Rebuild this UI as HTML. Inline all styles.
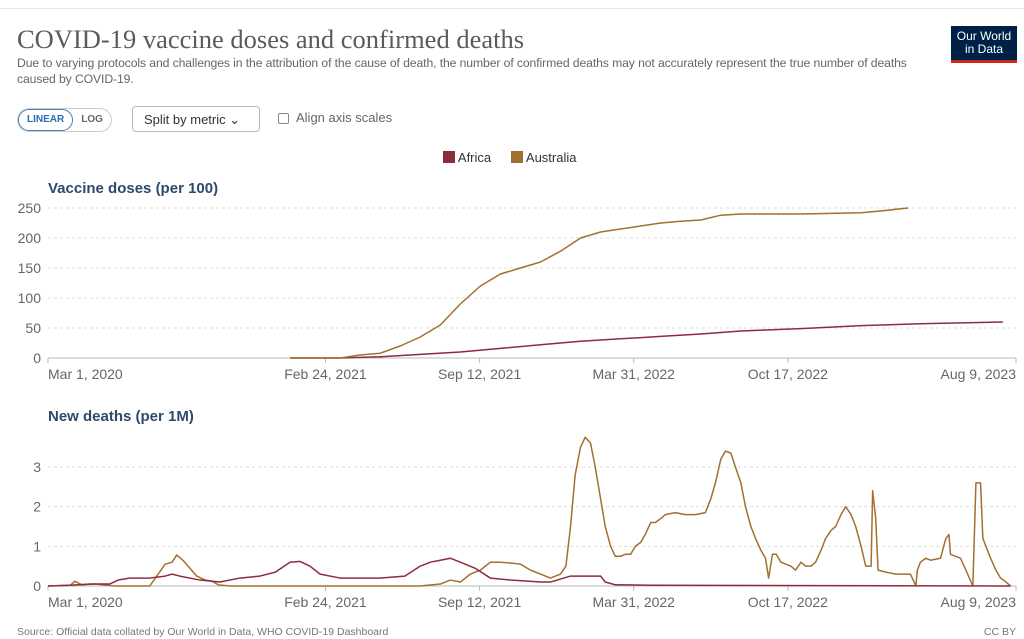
<!DOCTYPE html>
<html><head><meta charset="utf-8"><style>
body{margin:0;background:#fff;font-family:"Liberation Sans",sans-serif;width:1024px;height:639px;overflow:hidden;position:relative}
.abs{position:absolute}
</style></head><body>
<div class="abs" style="left:0;top:8px;width:1024px;border-top:1px solid #e6e6e6"></div>
<div class="abs" style="left:17px;top:24px;font-family:'Liberation Serif',serif;font-size:26.5px;color:#5b5b5b">COVID-19 vaccine doses and confirmed deaths</div>
<div class="abs" style="left:17px;top:55px;width:905px;font-size:12.2px;letter-spacing:-0.1px;line-height:16px;color:#666">Due to varying protocols and challenges in the attribution of the cause of death, the number of confirmed deaths may not accurately represent the true number of deaths caused by COVID-19.</div>
<div class="abs" style="left:951px;top:26px;width:66px;height:37px;background:#002147;color:#fff;font-size:12px;line-height:13px;text-align:center;box-sizing:border-box;padding-top:4px;border-bottom:3px solid #ce261e">Our World<br>in Data</div>
<div class="abs" style="left:17px;top:108px;height:22px;border:1px solid #ccc;border-radius:12px;display:flex;font-size:10px;font-weight:bold;overflow:hidden">
<div style="padding:0 8px;line-height:20px;color:#2b6cb0;border:1px solid #3b82c4;border-radius:12px">LINEAR</div>
<div style="padding:0 8px;line-height:22px;color:#666">LOG</div></div>
<div class="abs" style="left:132px;top:106px;width:128px;height:26px;border:1px solid #bbb;border-radius:4px;font-size:13px;color:#333;line-height:26px;padding-left:11px;box-sizing:border-box">Split by metric ⌄</div>
<div class="abs" style="left:278px;top:113px;width:9px;height:9px;border:1px solid #888;border-radius:2px"></div>
<div class="abs" style="left:296px;top:110px;font-size:13px;color:#666">Align axis scales</div>
<div class="abs" style="left:443px;top:150px;font-size:13px;color:#333"><span style="display:inline-block;width:12px;height:12px;background:#8c2c3e;vertical-align:-1px"></span> Africa</div>
<div class="abs" style="left:511px;top:150px;font-size:13px;color:#333"><span style="display:inline-block;width:12px;height:12px;background:#a2702f;vertical-align:-1px"></span> Australia</div>
<div class="abs" style="left:17px;top:626px;font-size:10.5px;color:#777">Source: Official data collated by Our World in Data, WHO COVID-19 Dashboard</div>
<div class="abs" style="right:8px;top:626px;font-size:10.5px;color:#777">CC BY</div>
<svg class="abs" id="chart" style="left:0;top:0" width="1024" height="639"></svg>
<script>
const tickDays=[0,360,560,760,960,1256];
const tickLabels=["Mar 1, 2020","Feb 24, 2021","Sep 12, 2021","Mar 31, 2022","Oct 17, 2022","Aug 9, 2023"];
const vacTicks=[0,50,100,150,200,250];
const deathTicks=[0,1,2,3];
const ausVacDays=[314,379,405,431,457,483,509,535,561,587,613,639,665,691,717,743,769,795,821,847,873,899,977,1055,1080,1116];
const ausVacVals=[0,0,5,8,20,35,55,90,120,140,150,160,178,200,210,215,220,225,228,230,238,240,240,242,245,250];
const afrVacDays=[314,379,431,483,535,587,639,691,743,795,847,899,977,1055,1132,1239];
const afrVacVals=[0,0,2,6,10,16,22,28,32,36,40,45,49,54,57,60];
const ausDeathDays=[0,29,35,44,61,87,132,143,152,161,167,175,184,193,204,213,221,236,483,509,522,535,548,561,574,587,600,613,626,639,652,665,672,678,684,691,697,704,710,717,723,730,736,743,749,756,762,769,775,782,788,795,801,814,827,840,853,860,866,873,879,886,892,899,905,912,918,925,931,935,940,945,951,964,970,977,983,990,996,1003,1009,1016,1022,1029,1035,1042,1048,1055,1061,1068,1070,1074,1077,1087,1100,1119,1126,1128,1132,1139,1145,1158,1165,1169,1171,1184,1191,1200,1204,1210,1213,1217,1223,1230,1236,1243,1249];
const ausDeathVals=[0,0.02,0.12,0.03,0.05,0,0,0.3,0.55,0.6,0.78,0.65,0.45,0.25,0.15,0.12,0.03,0,0,0.05,0.15,0.1,0.3,0.4,0.6,0.6,0.58,0.55,0.4,0.3,0.2,0.3,0.5,1.5,2.8,3.5,3.75,3.6,3.0,2.2,1.5,1.0,0.75,0.75,0.8,0.8,1.0,1.1,1.3,1.6,1.6,1.7,1.8,1.85,1.8,1.8,1.85,2.2,2.6,3.2,3.4,3.35,3.0,2.6,2.0,1.5,1.2,0.9,0.7,0.2,0.8,0.8,0.6,0.5,0.4,0.6,0.5,0.5,0.6,0.9,1.2,1.4,1.5,1.8,2.0,1.8,1.5,1.0,0.5,0.5,2.4,1.7,0.4,0.35,0.3,0.3,0.0,0.4,0.6,0.7,0.65,0.7,1.2,1.3,0.8,0.7,0.4,0.0,2.6,2.6,1.2,1.0,0.7,0.4,0.2,0.1,0];
const afrDeathDays=[0,29,55,80,91,106,132,152,161,171,197,223,249,275,295,314,327,340,353,379,405,431,463,483,496,509,522,535,554,574,600,639,652,678,691,717,723,736,782,1249];
const afrDeathVals=[0,0.02,0.05,0.05,0.15,0.2,0.2,0.25,0.3,0.25,0.15,0.1,0.2,0.25,0.35,0.6,0.62,0.5,0.3,0.2,0.2,0.2,0.25,0.5,0.6,0.65,0.7,0.6,0.45,0.2,0.15,0.1,0.1,0.25,0.25,0.25,0.1,0.03,0.02,0];
const svg=document.getElementById('chart');const NS='http://www.w3.org/2000/svg';
const X0=48,X1=1016,DMAX=1256;
const x=d=>X0+d*(X1-X0)/DMAX;
function yScale(base,top,max){return v=>base-v*(base-top)/max;}
const yv=yScale(358,208,250), yd=yScale(586,467,3);
function add(tag,attrs,name,text){const e=document.createElementNS(NS,tag);for(const k in attrs)e.setAttribute(k,attrs[k]);


if(text!=null)e.textContent=text;svg.appendChild(e);return e;}
function panel(ticks,y,base,title,titleY){
 add('text',{x:48,y:titleY,'font-size':15,'font-weight':'bold',fill:'#2d4a6b'},'panel-title',title);
 ticks.forEach(t=>{if(t>0)add('line',{x1:48,x2:1016,y1:y(t),y2:y(t),stroke:'#ddd','stroke-dasharray':'3,3'},'grid-line');
  add('text',{x:41,y:y(t)+5,'font-size':14,fill:'#666','text-anchor':'end'},'y-tick-label',t);});
 add('line',{x1:48,x2:1016,y1:base,y2:base,stroke:'#bbb'},'x-axis-line');
 tickDays.forEach((d,i)=>{const anchor=i==0?'start':(i==tickDays.length-1?'end':'middle');
  add('line',{x1:x(d),x2:x(d),y1:base,y2:base+5,stroke:'#bbb'},'x-tick');
  add('text',{x:x(d),y:base+21,'font-size':14,fill:'#666','text-anchor':anchor},'x-tick-label',tickLabels[i]);});
}
panel(vacTicks,yv,358,'Vaccine doses (per 100)',193);
panel(deathTicks,yd,586,'New deaths (per 1M)',421);
function line(days,vals,y,color,name){add('polyline',{points:days.map((d,i)=>x(d)+','+y(vals[i])).join(' '),fill:'none',stroke:color,'stroke-width':1.5,'stroke-linejoin':'round'},name);}
line(afrVacDays,afrVacVals,yv,'#8c2c3e','africa-vaccine-line');
line(ausVacDays,ausVacVals,yv,'#a2702f','australia-vaccine-line');
line(ausDeathDays,ausDeathVals,yd,'#a2702f','australia-deaths-line');
line(afrDeathDays,afrDeathVals,yd,'#8c2c3e','africa-deaths-line');
</script>
</body></html>
